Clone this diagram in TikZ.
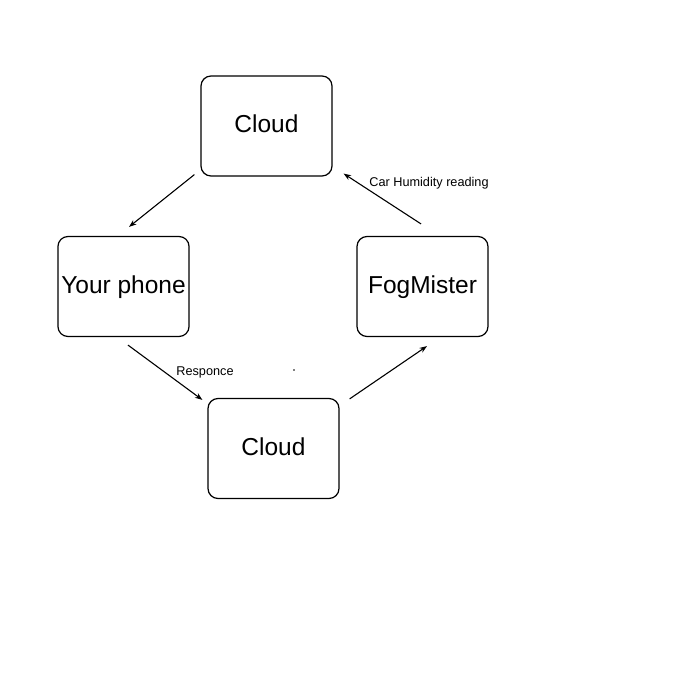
\documentclass[tikz,border=0pt]{standalone}
\usepackage{fontspec}
\setmainfont{Liberation Sans}
\usetikzlibrary{arrows.meta,calc}

\tikzset{
    box/.style = {draw, rounded corners = 10, line width = 1.2pt, minimum width = 131, minimum height = 100, font = \fontsize{24.5}{28}\selectfont, text depth = 4pt},
    flow/.style = {-{Stealth[length = 7.5pt, width = 5.5pt]}, line width = 1.1pt},
    lbl/.style = {font = \fontsize{12.7}{15}\selectfont}
}

\begin{document}
\begin{tikzpicture}[x = 1pt, y = -1pt]
            \useasboundingbox[fill = white] (0,0) rectangle (700,700);
            \node[box] (cloudtop) at (266.5,126) {Cloud};
            \node[box] (phone) at (123.5,286.5) {Your phone};
            \node[box] (fogmister) at (422.5,286.5) {FogMister};
            \node[box] (cloudbot) at (273.5,448.5) {Cloud};
            \draw[flow] ($(cloudtop.south west)+(-6,-2)$) -- ($(phone.north)+(5.5,-9)$);
            \draw[flow] ($(phone.south)+(4.5,8)$) -- ($(cloudbot.north west)+(-5,2)$);
            \draw[flow] ($(cloudbot.north east)+(10,1)$) -- ($(fogmister.south)+(4.5,9)$);
            \draw[flow] ($(fogmister.north)+(-1.5,-12)$) -- ($(cloudtop.south east)+(11,-3)$);
            \node[lbl] (carhum) at (429,183.5) {Car Humidity reading};
            \node[lbl] (resp) at (205,372.5) {Responce};
            \fill (294,370) circle (0.8);
        \end{tikzpicture}
\end{document}
